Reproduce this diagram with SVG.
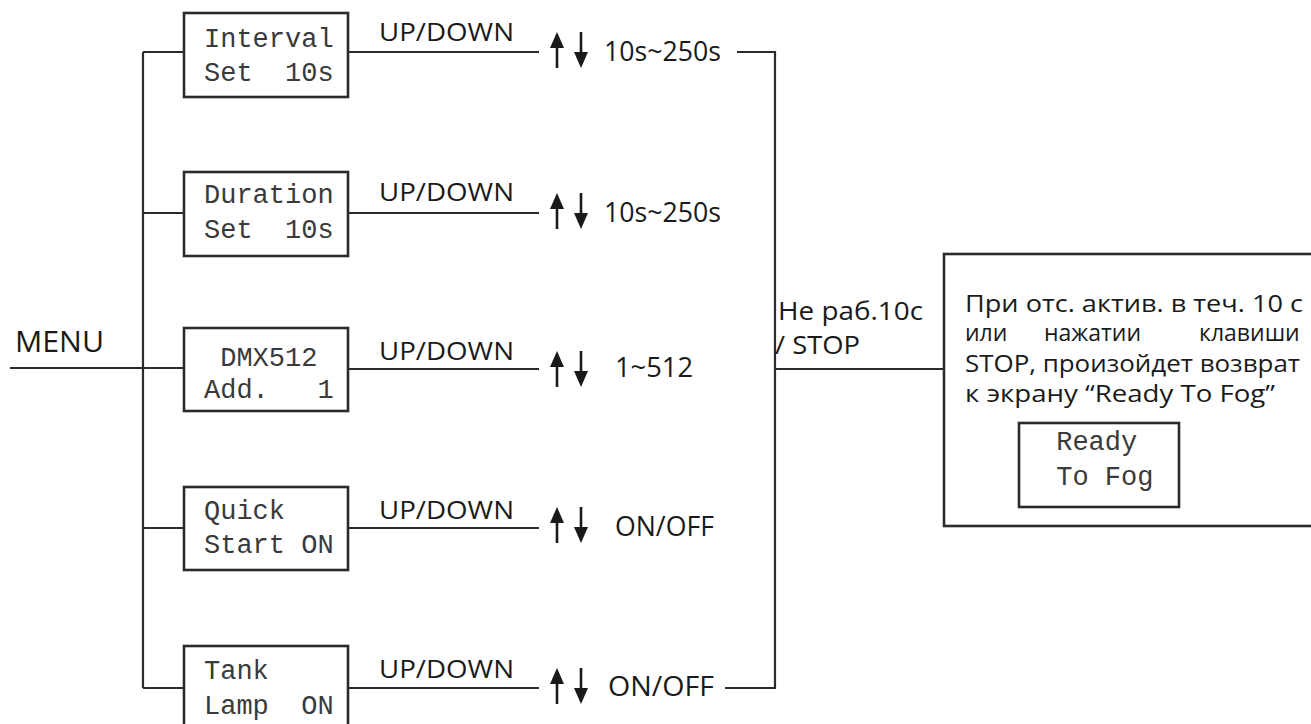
<svg xmlns="http://www.w3.org/2000/svg" xmlns:xlink="http://www.w3.org/1999/xlink" width="1311" height="724" viewBox="0 0 1311 724">
<style>
.ln{fill:none;stroke:#2b2b2b;stroke-width:2.2}
.bx{fill:#fff;stroke:#2b2b2b;stroke-width:2.6}
.lcd{font-family:"Liberation Mono","DejaVu Sans Mono",monospace;font-size:27px;fill:#3a3a3a;white-space:pre}
.lb{font-family:"Open Sans","Noto Sans",sans-serif;fill:#1a1a1a}
.ud{font-size:26px}
.val{font-size:27px}
.txt{font-size:23px}
.sh{stroke:#1a1a1a;stroke-width:2.6;fill:none}
.hd{fill:#1a1a1a}
</style>
<defs>
<g id="updown">
<path class="sh" d="M0 18V-6M24 -18V6"/>
<path class="hd" d="M0 -18L-7 -2H7Z"/>
<path class="hd" d="M24 18L17 2H31Z"/>
</g>
</defs>
<rect width="1311" height="724" fill="#fff"/>
<g id="connectors">
<path class="ln" d="M10 368H143M143 52V688M143 52H184M143 213H184M143 368H184M143 528H184M143 688H184"/>
<path class="ln" d="M348 52H539M348 213H539M348 369H539M348 528H539M348 688H539"/>
<path class="ln" d="M737 52H775V688H725M775 369H944"/>
</g>
<g id="menu"><text class="lb" x="15" y="352" font-size="29" textLength="89" lengthAdjust="spacingAndGlyphs">MENU</text></g>
<g id="interval">
<rect class="bx" x="184" y="13" width="164" height="84"/>
<text class="lcd" x="204" y="47">Interval</text>
<text class="lcd" x="204" y="81">Set  10s</text>
<text class="lb ud" x="379" y="41" textLength="135" lengthAdjust="spacingAndGlyphs">UP/DOWN</text>
<use xlink:href="#updown" href="#updown" x="557" y="50"/>
<text class="lb val" x="604" y="61" textLength="117" lengthAdjust="spacingAndGlyphs">10s~250s</text>
</g>
<g id="duration">
<rect class="bx" x="184" y="172" width="164" height="84"/>
<text class="lcd" x="204" y="203">Duration</text>
<text class="lcd" x="204" y="238">Set  10s</text>
<text class="lb ud" x="379" y="201" textLength="135" lengthAdjust="spacingAndGlyphs">UP/DOWN</text>
<use xlink:href="#updown" href="#updown" x="557" y="211"/>
<text class="lb val" x="604" y="222" textLength="117" lengthAdjust="spacingAndGlyphs">10s~250s</text>
</g>
<g id="dmx512">
<rect class="bx" x="184" y="328" width="164" height="83"/>
<text class="lcd" x="204" y="366"> DMX512</text>
<text class="lcd" x="204" y="398">Add.   1</text>
<text class="lb ud" x="379" y="360" textLength="135" lengthAdjust="spacingAndGlyphs">UP/DOWN</text>
<use xlink:href="#updown" href="#updown" x="557" y="369"/>
<text class="lb val" x="615" y="377" textLength="78" lengthAdjust="spacingAndGlyphs">1~512</text>
</g>
<g id="quickstart">
<rect class="bx" x="184" y="487" width="164" height="83"/>
<text class="lcd" x="204" y="519">Quick</text>
<text class="lcd" x="204" y="553">Start ON</text>
<text class="lb ud" x="379" y="519" textLength="135" lengthAdjust="spacingAndGlyphs">UP/DOWN</text>
<use xlink:href="#updown" href="#updown" x="557" y="525"/>
<text class="lb val" x="615" y="536" textLength="99" lengthAdjust="spacingAndGlyphs">ON/OFF</text>
</g>
<g id="tanklamp">
<rect class="bx" x="184" y="646" width="164" height="100"/>
<text class="lcd" x="204" y="679">Tank</text>
<text class="lcd" x="204" y="714">Lamp  ON</text>
<text class="lb ud" x="379" y="678" textLength="135" lengthAdjust="spacingAndGlyphs">UP/DOWN</text>
<use xlink:href="#updown" href="#updown" x="557" y="686"/>
<text class="lb val" x="608" y="696" textLength="106" lengthAdjust="spacingAndGlyphs">ON/OFF</text>
</g>
<g id="timeout-label">
<text class="lb" font-size="25" x="778" y="320" textLength="145" lengthAdjust="spacingAndGlyphs">Не раб.10с</text>
<text class="lb" font-size="25" x="775" y="354" textLength="85" lengthAdjust="spacingAndGlyphs">/ STOP</text>
</g>
<g id="ready-note">
<rect class="bx" x="944" y="254" width="380" height="272"/>
<text class="lb txt" x="965" y="312" textLength="338" lengthAdjust="spacingAndGlyphs">При отс. актив. в теч. 10 с</text>
<text class="lb txt" y="341"><tspan x="965">или</tspan><tspan x="1044">нажатии</tspan><tspan x="1199">клавиши</tspan></text>
<text class="lb txt" x="965" y="372" textLength="335" lengthAdjust="spacingAndGlyphs">STOP, произойдет возврат</text>
<text class="lb txt" x="965" y="402" textLength="310" lengthAdjust="spacingAndGlyphs">к экрану “Ready To Fog”</text>
<rect class="bx" x="1019" y="423" width="160" height="84"/>
<text class="lcd" x="1040" y="450"> Ready</text>
<text class="lcd" x="1040" y="485"> To Fog</text>
</g>
</svg>
